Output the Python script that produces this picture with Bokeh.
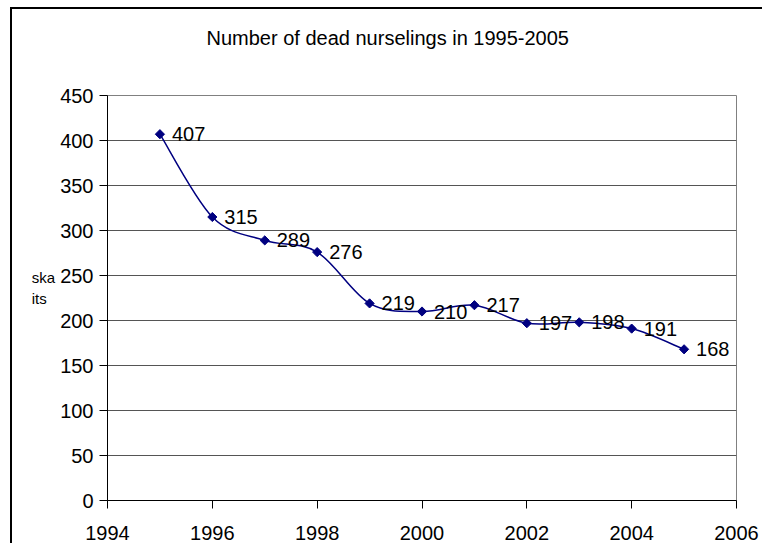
import numpy as np
from bokeh.plotting import figure
from bokeh.models import FixedTicker, Range1d, Title
from bokeh.embed import file_html
from bokeh.resources import INLINE
from bokeh.core.properties import value

# ---- data ----
years = [1995, 1996, 1997, 1998, 1999, 2000, 2001, 2002, 2003, 2004, 2005]
deaths = [407, 315, 289, 276, 219, 210, 217, 197, 198, 191, 168]
x_ticks = [1994, 1996, 1998, 2000, 2002, 2004, 2006]
y_ticks = [0, 50, 100, 150, 200, 250, 300, 350, 400, 450]
title_text = "Number of dead nurselings in 1995-2005"
y_label_lines = ["ska", "its  ", " "]

FONT = "Liberation Sans"
NAVY = "#000080"

p = figure(
    frame_width=629, frame_height=405,
    min_border_left=95, min_border_top=0, min_border_right=28, min_border_bottom=45,
    x_range=Range1d(x_ticks[0], x_ticks[-1]), y_range=Range1d(y_ticks[0], y_ticks[-1]),
    output_backend="svg", toolbar_location=None,
)
# outer chart border: only its left and top edges fall inside the window
p.styles = {"margin-left": "12px", "margin-top": "9px",
            "box-shadow": "-2px -2px 0px 0px black"}
p.background_fill_color = "white"
p.border_fill_color = "white"
p.outline_line_color = "#808080"
p.outline_line_width = 1

# title (outermost) and a spacer title between it and the frame
p.title.text = title_text
p.title.align = "left"
p.title.offset = 99
p.title.text_font = FONT
p.title.text_font_size = "20px"
p.title.text_font_style = "normal"
p.title.text_color = "black"
p.title.standoff = 31
p.add_layout(Title(text=" ", text_font_size="10px", standoff=18), "above")

# axes
for ax in (p.xaxis[0], p.yaxis[0]):
    ax.axis_line_color = "black"
    ax.major_tick_line_color = "black"
    ax.major_tick_out = 8
    ax.major_tick_in = 0
    ax.minor_tick_line_color = None
    ax.major_label_text_font = FONT
    ax.major_label_text_font_size = "20px"
    ax.major_label_text_color = "black"
p.xaxis.ticker = FixedTicker(ticks=x_ticks)
p.yaxis.ticker = FixedTicker(ticks=y_ticks)
p.xaxis.major_label_standoff = 17
p.yaxis.major_label_standoff = 6

p.yaxis.axis_label = "\n".join(y_label_lines)
p.yaxis.axis_label_orientation = "horizontal"
p.yaxis.axis_label_text_font = FONT
p.yaxis.axis_label_text_font_size = "15px"
p.yaxis.axis_label_text_font_style = "normal"
p.yaxis.axis_label_text_color = "black"
p.yaxis.axis_label_standoff = 2

p.xgrid.grid_line_color = None
p.ygrid.ticker = FixedTicker(ticks=y_ticks)
p.ygrid.grid_line_color = "#555555"
p.ygrid.grid_line_width = 1

# smoothed line (Catmull-Rom style bezier through the data)
xs = np.array(years, dtype=float)
ys = np.array(deaths, dtype=float)
xp = np.concatenate([[xs[0]], xs, [xs[-1]]])
yp = np.concatenate([[ys[0]], ys, [ys[-1]]])
k = 1.0 / 6.0
cx0 = xs[:-1] + (xp[2:-1] - xp[0:-3]) * k
cy0 = ys[:-1] + (yp[2:-1] - yp[0:-3]) * k
cx1 = xs[1:] - (xp[3:] - xp[1:-2]) * k
cy1 = ys[1:] - (yp[3:] - yp[1:-2]) * k
p.bezier(x0=xs[:-1], y0=ys[:-1], x1=xs[1:], y1=ys[1:],
         cx0=cx0, cy0=cy0, cx1=cx1, cy1=cy1,
         line_color=NAVY, line_width=1.5)

p.scatter(years, deaths, marker="square", angle=np.pi / 4, size=6.5,
          fill_color=NAVY, line_color=NAVY)

p.text(years, deaths, text=[str(d) for d in deaths], x_offset=12,
       text_baseline="middle", text_align="left",
       text_font=value(FONT), text_font_size="20px", text_color="black")

open("out.html", "w").write(file_html(p, INLINE))
